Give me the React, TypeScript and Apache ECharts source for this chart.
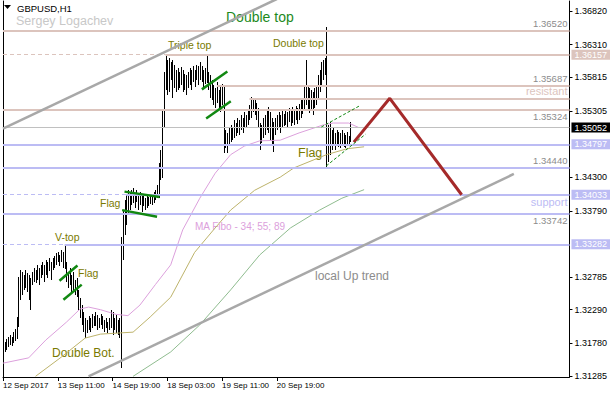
import React, { useEffect, useRef } from "react";
import * as echarts from "echarts";

const FONT = "'Liberation Sans', Arial, sans-serif";

// x axis: one slot per H1 bar
const timeLabels = ["12 Sep 2017", "13 Sep 11:00", "14 Sep 19:00", "18 Sep 03:00", "19 Sep 11:00", "20 Sep 19:00"];
const timeLabelBars = [0, 32, 64, 96, 128, 160];
const xSlots = 331;

// y axis tick labels
const priceTicks = [1.3682, 1.3631, 1.35815, 1.35305, 1.343, 1.3379, 1.32785, 1.3229, 1.3178, 1.31285];

// H1 bars (high / low)
const barHigh = [
  1.3183, 1.318, 1.3185, 1.3188, 1.319, 1.3187, 1.3195, 1.32, 1.3218, 1.3279,
  1.3289, 1.3286, 1.3282, 1.3289, 1.3285, 1.3282, 1.3277, 1.3286, 1.3292, 1.3289,
  1.3297, 1.3292, 1.3297, 1.3301, 1.3297, 1.3304, 1.3301, 1.3308, 1.3301, 1.3308,
  1.3311, 1.3315, 1.3317, 1.3312, 1.332, 1.3317, 1.3328, 1.3301, 1.3286, 1.3292,
  1.3282, 1.3286, 1.3274, 1.3277, 1.3259, 1.3247, 1.3236, 1.3226, 1.3217, 1.3213,
  1.322, 1.3217, 1.3223, 1.322, 1.3226, 1.3221, 1.3217, 1.3223, 1.322, 1.3213,
  1.3217, 1.3211, 1.3217, 1.3229, 1.3226, 1.3217, 1.3221, 1.3213, 1.3217, 1.3339,
  1.338, 1.3395, 1.3403, 1.341, 1.3407, 1.341, 1.3413, 1.3405, 1.341, 1.3403,
  1.3407, 1.3401, 1.3405, 1.3398, 1.3403, 1.34, 1.3404, 1.3403, 1.3407, 1.341,
  1.3418, 1.3451, 1.3471, 1.3532, 1.3589, 1.3615, 1.3608, 1.3611, 1.3605, 1.3608,
  1.36, 1.3592, 1.3596, 1.3589, 1.3597, 1.3592, 1.3586, 1.3585, 1.3589, 1.3596,
  1.3592, 1.3598, 1.3592, 1.36, 1.3598, 1.3605, 1.3598, 1.3592, 1.3596, 1.3615,
  1.3589, 1.3585, 1.3577, 1.357, 1.3565, 1.3574, 1.3562, 1.3567, 1.3571, 1.3568,
  1.3501, 1.3497, 1.3504, 1.3509, 1.3506, 1.3517, 1.3512, 1.352, 1.3517, 1.3524,
  1.352, 1.3529, 1.3524, 1.3532, 1.3539, 1.3551, 1.355, 1.3547, 1.3542, 1.3535,
  1.3512, 1.3509, 1.352, 1.3524, 1.3532, 1.3536, 1.3529, 1.352, 1.3514, 1.352,
  1.3524, 1.3529, 1.3524, 1.3532, 1.3526, 1.3532, 1.3529, 1.3535, 1.3532, 1.3536,
  1.3532, 1.3538, 1.3535, 1.3541, 1.3547, 1.355, 1.357, 1.3608, 1.357, 1.3565,
  1.3562, 1.3559, 1.3565, 1.357, 1.3585, 1.3592, 1.3605, 1.3608, 1.3611, 1.3658,
  1.3509, 1.3514, 1.3501, 1.3504, 1.3497, 1.3501, 1.3498, 1.3497, 1.3501, 1.3497,
  1.3494, 1.3498, 1.3492, 1.3514,
];
const barLow = [
  1.316, 1.3165, 1.3168, 1.3172, 1.3175, 1.3174, 1.3178, 1.3182, 1.3184, 1.3203,
  1.3244, 1.3251, 1.3259, 1.3262, 1.3256, 1.3244, 1.3229, 1.3267, 1.3271, 1.327,
  1.3274, 1.3267, 1.3277, 1.3282, 1.3271, 1.3282, 1.3277, 1.3287, 1.3274, 1.3289,
  1.3292, 1.3297, 1.3301, 1.3295, 1.3301, 1.3292, 1.329, 1.3271, 1.3262, 1.3267,
  1.3256, 1.3259, 1.3251, 1.3248, 1.3229, 1.3217, 1.3206, 1.3195, 1.3186, 1.3194,
  1.3198, 1.3195, 1.3201, 1.3204, 1.3204, 1.3198, 1.3201, 1.3206, 1.32, 1.3195,
  1.3201, 1.3194, 1.3198, 1.3201, 1.3191, 1.3198, 1.3194, 1.3191, 1.3186, 1.314,
  1.3304, 1.3342, 1.3358, 1.3373, 1.338, 1.3388, 1.3391, 1.3383, 1.3392, 1.338,
  1.3388, 1.3377, 1.3386, 1.338, 1.3383, 1.3386, 1.3389, 1.3388, 1.3391, 1.3395,
  1.3398, 1.3399, 1.3426, 1.3429, 1.3506, 1.3562, 1.3555, 1.3559, 1.3577, 1.355,
  1.3565, 1.3559, 1.3562, 1.3565, 1.357, 1.3559, 1.3562, 1.3555, 1.3565, 1.357,
  1.3562, 1.3574, 1.3567, 1.3577, 1.357, 1.3577, 1.3574, 1.3565, 1.3571, 1.3573,
  1.3562, 1.355, 1.3547, 1.3539, 1.3535, 1.3542, 1.3532, 1.3529, 1.3539, 1.3467,
  1.3474, 1.3467, 1.3479, 1.3483, 1.3486, 1.3489, 1.3492, 1.3497, 1.3494, 1.3501,
  1.3497, 1.3504, 1.3506, 1.3509, 1.3517, 1.352, 1.3529, 1.3524, 1.3517, 1.3504,
  1.3471, 1.3482, 1.3489, 1.3494, 1.3501, 1.3497, 1.3486, 1.3479, 1.3468, 1.3494,
  1.3501, 1.3504, 1.3497, 1.3504, 1.3507, 1.3509, 1.3506, 1.3514, 1.3507, 1.3512,
  1.3509, 1.3517, 1.3511, 1.3517, 1.352, 1.3526, 1.3532, 1.3539, 1.3532, 1.3527,
  1.3532, 1.3524, 1.3535, 1.3539, 1.355, 1.3559, 1.357, 1.3577, 1.3585, 1.3444,
  1.3453, 1.3463, 1.3471, 1.3479, 1.3471, 1.3479, 1.3476, 1.3474, 1.3479, 1.3476,
  1.3474, 1.3479, 1.3477, 1.3483,
];

// "MA Fibo - 34; 55; 89" (read at sampled bars)
const ma34 = [
  [0, 1.3148], [15, 1.3156], [25, 1.3183], [37, 1.321], [45, 1.323], [50, 1.3233], [57, 1.3229],
  [66, 1.3222], [73, 1.322], [80, 1.3236], [89, 1.3267], [98, 1.3297], [105, 1.335], [115, 1.3398],
  [124, 1.3436], [133, 1.3464], [141, 1.3477], [150, 1.3485], [162, 1.3486], [173, 1.3497],
  [187, 1.3509], [193, 1.3512], [202, 1.3512], [208, 1.3505],
];
const ma55 = [
  [19, 1.3128], [34, 1.3157], [48, 1.3186], [57, 1.3192], [76, 1.3195], [86, 1.3218], [98, 1.3248],
  [112, 1.3316], [123, 1.335], [133, 1.338], [147, 1.341], [162, 1.343], [170, 1.3444], [189, 1.3464],
  [201, 1.3473], [211, 1.3476],
];
const ma89 = [
  [76, 1.3128], [98, 1.3165], [115, 1.3206], [133, 1.3259], [150, 1.3312], [168, 1.3353],
  [185, 1.338], [198, 1.3398], [211, 1.3411],
];

// trend lines
const upperChannel = [[0, 1.35035], [160, 1.37]];
const lowerChannel = [[50, 1.3128], [298.5, 1.34348]];
const forecastPath = [[205, 1.3483], [226, 1.35495], [268, 1.34033]];
const flagLines = [
  [[33, 1.3273], [43.5, 1.3296]],
  [[35.3, 1.3244], [46, 1.3267]],
  [[71, 1.3408], [91.5, 1.34]],
  [[69.6, 1.338], [90, 1.337]],
  [[116.2, 1.3563], [131.1, 1.359]],
  [[118.7, 1.3519], [133.1, 1.3545]],
];
const flagLinesThin = [
  [[186, 1.3506], [208.3, 1.3538]],
  [[188.9, 1.3447], [211.8, 1.3495]],
];

// horizontal levels
const levelPrices = [1.3652, 1.36157, 1.35687, 1.35495, 1.35324, 1.34797, 1.3444, 1.34033, 1.33742, 1.33282];
const levelIsResistance = [true, true, true, true, true, false, false, false, false, false];
const levelSolidFrom = [0, 95, 125, 144, 0, 0, 0, 72, 0, 36];
const levelDashedBefore = [false, true, false, false, false, false, false, true, false, true];
const levelTag = [false, true, false, false, false, true, false, true, false, true];
const levelText = ["1.36520", "", "1.35687", "resistant", "1.35324", "", "1.34440", "support", "1.33742", ""];
const levelTextBelow = [false, false, false, false, true, false, false, true, true, false];
const bidPrice = 1.35052;

const PINK = "#dcc4bd";
const BLUE = "#bcbcf4";

const tagLabel = (p: number, bg: string) => ({
  show: true,
  position: "end",
  formatter: p.toFixed(5),
  color: "#fff",
  backgroundColor: bg,
  padding: [1, 6, 0, 3],
  fontSize: 9,
  fontFamily: FONT,
  distance: 2,
});

function buildLevels() {
  const data: any[] = [];
  levelPrices.forEach((p, k) => {
    const color = levelIsResistance[k] ? PINK : BLUE;
    if (levelDashedBefore[k]) {
      data.push([
        { coord: [0, p], lineStyle: { color, width: 1, type: [4, 3] } },
        { coord: [levelSolidFrom[k], p] },
      ]);
    }
    const txt = levelText[k];
    const isWord = txt === "resistant" || txt === "support";
    const textLabel = txt
      ? {
          show: true,
          position: levelTextBelow[k] ? "insideEndBottom" : "insideEndTop",
          formatter: txt,
          color: isWord ? color : "#8c8c8c",
          fontSize: isWord ? 11 : 9.5,
          fontFamily: FONT,
          distance: 2,
        }
      : { show: false };
    if (levelTag[k]) {
      data.push([
        { coord: [levelSolidFrom[k], p], lineStyle: { color, width: 2, type: "solid" }, label: tagLabel(p, color) },
        { coord: [xSlots, p] },
      ]);
      if (txt) {
        data.push([
          { coord: [0, p], lineStyle: { color: "rgba(0,0,0,0)", width: 1 }, label: textLabel },
          { coord: [xSlots, p] },
        ]);
      }
    } else {
      data.push([
        { coord: [levelSolidFrom[k], p], lineStyle: { color, width: 2, type: "solid" }, label: textLabel },
        { coord: [xSlots, p] },
      ]);
    }
  });
  data.push([
    { coord: [0, bidPrice], lineStyle: { color: "#c0c0c0", width: 1, type: "solid" }, label: tagLabel(bidPrice, "#000") },
    { coord: [xSlots, bidPrice] },
  ]);
  return data;
}

const Y_MIN = 1.3127;
const Y_MAX = 1.3697;

const OLIVE = "#7a7a00";

function buildOption(): any {
  const bars = barHigh.map((h, i) => [i, h, barLow[i]]);
  const lineSeries = (data: number[][], color: string, width: number, z: number, type: any = "solid") => ({
    type: "line",
    data,
    symbol: "none",
    silent: true,
    clip: true,
    z,
    lineStyle: { color, width, type },
  });
  return {
    animation: false,
    backgroundColor: "#fff",
    grid: { left: 2, right: 39, top: 1, bottom: 23 },
    xAxis: {
      type: "value",
      min: 0,
      max: xSlots,
      axisLine: { show: true, onZero: false, lineStyle: { color: "#000", width: 1 } },
      axisTick: { show: true, customValues: timeLabelBars, length: 4, lineStyle: { color: "#000" } },
      axisLabel: {
        customValues: timeLabelBars,
        formatter: (v: number) => timeLabels[timeLabelBars.indexOf(Math.round(v))] ?? "",
        align: "left",
        margin: 4,
        fontSize: 8,
        color: "#000",
        fontFamily: FONT,
      },
      splitLine: { show: false },
    },
    yAxis: [
      {
        type: "value",
        position: "right",
        min: Y_MIN,
        max: Y_MAX,
        axisLine: { show: true, onZero: false, lineStyle: { color: "#000", width: 1 } },
        axisTick: { show: true, customValues: priceTicks, length: 3, lineStyle: { color: "#000" } },
        axisLabel: {
          customValues: priceTicks,
          formatter: (v: number) => v.toFixed(5),
          margin: 5,
          fontSize: 9,
          color: "#000",
          fontFamily: FONT,
        },
        splitLine: { show: false },
      },
      {
        type: "value",
        position: "left",
        min: Y_MIN,
        max: Y_MAX,
        axisLine: { show: true, onZero: false, lineStyle: { color: "#000", width: 1 } },
        axisTick: { show: false },
        axisLabel: { show: false },
        splitLine: { show: false },
      },
    ],
    series: [
      {
        type: "line",
        data: [],
        silent: true,
        z: 1,
        markLine: {
          silent: true,
          symbol: ["none", "none"],
          label: { show: false },
          data: buildLevels(),
        },
      },
      {
        type: "custom",
        z: 3,
        silent: true,
        clip: true,
        data: bars,
        encode: { x: 0, y: [1, 2] },
        renderItem: (params: any, api: any) => {
          const i = api.value(0);
          const hi = api.coord([i, api.value(1)]);
          const lo = api.coord([i, api.value(2)]);
          const x = Math.round(hi[0]) + 0.5;
          return {
            type: "line",
            shape: { x1: x, y1: Math.round(hi[1]), x2: x, y2: Math.round(lo[1]) },
            style: { stroke: "#000", lineWidth: 1 },
          };
        },
      },
      lineSeries(ma34, "#dca0dc", 1, 4),
      lineSeries(ma55, "#bdb36b", 1, 4),
      lineSeries(ma89, "#8fbc8f", 1, 4),
      lineSeries(upperChannel, "#a8a8a8", 2.5, 5),
      lineSeries(lowerChannel, "#a8a8a8", 2.5, 5),
      lineSeries(forecastPath, "#a52a2a", 3, 6),
      ...flagLines.map((d) => lineSeries(d, "#118811", 2.5, 6)),
      ...flagLinesThin.map((d) => lineSeries(d, "#118811", 1, 6, [3, 2])),
    ],
    graphic: [
      { type: "polygon", shape: { points: [[4, 5], [11, 5], [7.5, 9]] }, style: { fill: "#000" } },
      { type: "text", x: 17, y: 8, style: { text: "GBPUSD,H1", fill: "#000", font: `9.5px ${FONT}`, verticalAlign: "middle" } },
      { type: "text", x: 16, y: 21, style: { text: "Sergey Logachev", fill: "#c8c8c8", font: `12.5px ${FONT}`, verticalAlign: "middle" } },
      { type: "text", x: 226, y: 17, style: { text: "Double top", fill: "#1d8a1d", font: `14px ${FONT}`, verticalAlign: "middle" } },
      { type: "text", x: 168, y: 45, style: { text: "Triple top", fill: OLIVE, font: `10.5px ${FONT}`, verticalAlign: "middle" } },
      { type: "text", x: 273, y: 43, style: { text: "Double top", fill: OLIVE, font: `10.5px ${FONT}`, verticalAlign: "middle" } },
      { type: "text", x: 55, y: 237, style: { text: "V-top", fill: OLIVE, font: `10.5px ${FONT}`, verticalAlign: "middle" } },
      { type: "text", x: 78, y: 273, style: { text: "Flag", fill: OLIVE, font: `10.5px ${FONT}`, verticalAlign: "middle" } },
      { type: "text", x: 100, y: 203, style: { text: "Flag", fill: OLIVE, font: `10.5px ${FONT}`, verticalAlign: "middle" } },
      { type: "text", x: 52, y: 353, style: { text: "Double Bot.", fill: OLIVE, font: `12px ${FONT}`, verticalAlign: "middle" } },
      { type: "text", x: 298, y: 153, style: { text: "Flag", fill: OLIVE, font: `12.5px ${FONT}`, verticalAlign: "middle" } },
      { type: "text", x: 195, y: 226, style: { text: "MA Fibo - 34; 55; 89", fill: "#dca0dc", font: `10px ${FONT}`, verticalAlign: "middle" } },
      { type: "text", x: 315, y: 276, style: { text: "local Up trend", fill: "#8c8c8c", font: `12px ${FONT}`, verticalAlign: "middle" } },
    ],
  };
}

export default function App() {
  const ref = useRef<HTMLDivElement>(null);
  useEffect(() => {
    const chart = echarts.init(ref.current!, null, { renderer: "svg" });
    chart.setOption(buildOption());
    return () => chart.dispose();
  }, []);
  return (
    <div
      ref={ref}
      style={{ position: "fixed", left: 0, top: 0, width: 610, height: 400, background: "#fff" }}
    />
  );
}
